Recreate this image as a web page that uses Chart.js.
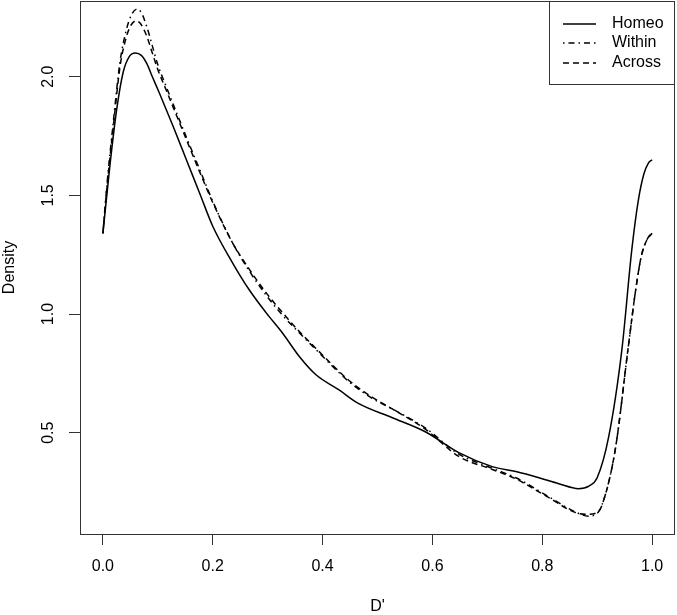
<!DOCTYPE html>
<html>
<head>
<meta charset="utf-8">
<script src="https://cdn.jsdelivr.net/npm/chart.js@4"></script>
<style>
  html, body { margin: 0; padding: 0; background: #fff; }
  #wrap { width: 677px; height: 615px; }
</style>
</head>
<body>
<div id="wrap"><canvas id="densityChart" width="677" height="615"></canvas></div>
<script>
// Tick labels
const xTicks = [0.0, 0.2, 0.4, 0.6, 0.8, 1.0];
const yTicks = [0.5, 1.0, 1.5, 2.0];
const seriesNames = ['Homeo', 'Within', 'Across'];

// Homeo (solid)
const homeoX = [0, 0.0125, 0.025, 0.037, 0.048, 0.059, 0.07, 0.08, 0.09, 0.103, 0.128, 0.152, 0.176, 0.2,
  0.236, 0.267, 0.297, 0.327, 0.358, 0.388, 0.43, 0.466, 0.527, 0.587, 0.648, 0.709, 0.752, 0.794, 0.83,
  0.866, 0.885, 0.9, 0.921, 0.945, 0.963, 0.975, 0.985, 0.993, 1.0];
const homeoY = [1.34, 1.62, 1.86, 2.02, 2.085, 2.10, 2.09, 2.055, 2.0, 1.93, 1.79, 1.65, 1.51, 1.37,
  1.216, 1.10, 1.006, 0.92, 0.82, 0.744, 0.68, 0.622, 0.563, 0.504, 0.416, 0.357, 0.336, 0.31, 0.285,
  0.264, 0.275, 0.31, 0.483, 0.85, 1.27, 1.48, 1.59, 1.635, 1.65];

// Within (dot-dash)
const withinX = [0, 0.0076, 0.019, 0.031, 0.043, 0.053, 0.062, 0.07, 0.08, 0.09, 0.1, 0.115, 0.152, 0.176,
  0.2, 0.236, 0.267, 0.297, 0.327, 0.358, 0.388, 0.418, 0.448, 0.49, 0.527, 0.587, 0.648, 0.709, 0.752,
  0.812, 0.861, 0.884, 0.9, 0.908, 0.933, 0.956, 0.97, 0.98, 0.99, 1.0];
const withinY = [1.34, 1.55, 1.81, 2.06, 2.20, 2.265, 2.285, 2.27, 2.21, 2.13, 2.05, 1.96, 1.745, 1.61,
  1.475, 1.30, 1.18, 1.08, 0.995, 0.92, 0.85, 0.78, 0.715, 0.645, 0.60, 0.52, 0.41, 0.35, 0.31,
  0.23, 0.165, 0.148, 0.16, 0.19, 0.43, 0.85, 1.1, 1.24, 1.31, 1.345];

// Across (dashed)
const acrossX = [0, 0.0076, 0.019, 0.031, 0.043, 0.052, 0.06, 0.068, 0.08, 0.09, 0.1, 0.115, 0.152, 0.176,
  0.2, 0.236, 0.267, 0.297, 0.327, 0.358, 0.388, 0.418, 0.448, 0.49, 0.527, 0.587, 0.648, 0.709, 0.752,
  0.812, 0.861, 0.885, 0.9, 0.908, 0.933, 0.956, 0.97, 0.98, 0.99, 1.0];
const acrossY = [1.34, 1.54, 1.79, 2.04, 2.17, 2.22, 2.235, 2.225, 2.17, 2.10, 2.03, 1.945, 1.735, 1.60,
  1.47, 1.30, 1.187, 1.09, 1.006, 0.925, 0.855, 0.785, 0.72, 0.65, 0.60, 0.515, 0.40, 0.345, 0.305,
  0.226, 0.163, 0.156, 0.165, 0.19, 0.43, 0.85, 1.1, 1.24, 1.31, 1.34];

const FONT = '"Liberation Sans", Arial, sans-serif';
const INK = '#000';
const AXIS = '#333';

const toPoints = (xs, ys) => xs.map((x, i) => ({ x: x, y: ys[i] }));

const lineStyles = [
  { dash: [] },
  { dash: [1.5, 4, 6, 4] },
  { dash: [6, 4] }
];

// R style box, rotated y labels, axis titles and legend
const rStylePlugin = {
  id: 'rStyle',
  afterDraw(chart) {
    const ctx = chart.ctx;
    const a = chart.chartArea;
    const yScale = chart.scales.y;
    ctx.save();

    // plot box
    ctx.strokeStyle = AXIS;
    ctx.lineWidth = 1;
    ctx.setLineDash([]);
    ctx.strokeRect(a.left + 0.5, a.top + 0.5, a.right - a.left - 1, a.bottom - a.top);

    // y tick labels (parallel to the axis)
    ctx.fillStyle = INK;
    ctx.font = '16px ' + FONT;
    ctx.textAlign = 'center';
    ctx.textBaseline = 'middle';
    yTicks.forEach(v => {
      const py = yScale.getPixelForValue(v);
      ctx.save();
      ctx.translate(49, py);
      ctx.rotate(-Math.PI / 2);
      ctx.fillText(v.toFixed(1), 0, 0);
      ctx.restore();
    });

    // axis titles
    ctx.fillText("D'", (a.left + a.right) / 2, 607);
    ctx.save();
    ctx.translate(10, (a.top + a.bottom) / 2);
    ctx.rotate(-Math.PI / 2);
    ctx.fillText('Density', 0, 0);
    ctx.restore();

    // legend
    const lx = 549, ly = a.top, lw = a.right - lx, lh = 83;
    ctx.fillStyle = '#fff';
    ctx.fillRect(lx, ly, lw, lh);
    ctx.strokeStyle = AXIS;
    ctx.strokeRect(lx + 0.5, ly + 0.5, lw - 1, lh);
    const rows = [24, 43, 63];
    seriesNames.forEach((name, i) => {
      ctx.strokeStyle = INK;
      ctx.lineWidth = 1.5;
      ctx.setLineDash(lineStyles[i].dash);
      ctx.beginPath();
      ctx.moveTo(563, rows[i]);
      ctx.lineTo(596, rows[i]);
      ctx.stroke();
      ctx.setLineDash([]);
      ctx.fillStyle = INK;
      ctx.textAlign = 'left';
      ctx.fillText(name, 612, rows[i]);
    });
    ctx.restore();
  }
};

const datasets = [
  { label: seriesNames[0], data: toPoints(homeoX, homeoY) },
  { label: seriesNames[1], data: toPoints(withinX, withinY) },
  { label: seriesNames[2], data: toPoints(acrossX, acrossY) }
].map((d, i) => Object.assign(d, {
  borderColor: INK,
  borderWidth: 1.5,
  borderDash: lineStyles[i].dash,
  pointRadius: 0,
  fill: false,
  cubicInterpolationMode: 'monotone'
}));

const ctx = document.getElementById('densityChart').getContext('2d');
const densityChart = new Chart(ctx, {
  type: 'line',
  data: { datasets: datasets },
  options: {
    responsive: false,
    animation: false,
    devicePixelRatio: 1,
    layout: { padding: { top: 1, right: 2, left: 0, bottom: 0 } },
    plugins: {
      legend: { display: false },
      tooltip: { enabled: false }
    },
    scales: {
      x: {
        type: 'linear',
        min: -0.0417,
        max: 1.0417,
        afterBuildTicks: scale => { scale.ticks = xTicks.map(v => ({ value: v })); },
        afterFit: scale => {
          scale.height = 81;
          scale.paddingLeft = 0;
          scale.paddingRight = 0;
        },
        grid: { drawOnChartArea: false, drawTicks: true, tickLength: 11, color: AXIS, lineWidth: 1 },
        border: { display: false },
        ticks: {
          color: INK,
          font: { family: FONT, size: 16 },
          padding: 12,
          maxRotation: 0,
          callback: v => Number(v).toFixed(1)
        }
      },
      y: {
        type: 'linear',
        min: 0.073,
        max: 2.319,
        afterBuildTicks: scale => { scale.ticks = yTicks.map(v => ({ value: v })); },
        afterFit: scale => {
          scale.width = 80;
          scale.paddingTop = 0;
          scale.paddingBottom = 0;
        },
        grid: { drawOnChartArea: false, drawTicks: true, tickLength: 11, color: AXIS, lineWidth: 1 },
        border: { display: false },
        ticks: { color: 'rgba(0,0,0,0)', font: { family: FONT, size: 16 } }
      }
    }
  },
  plugins: [rStylePlugin]
});
</script>
</body>
</html>
